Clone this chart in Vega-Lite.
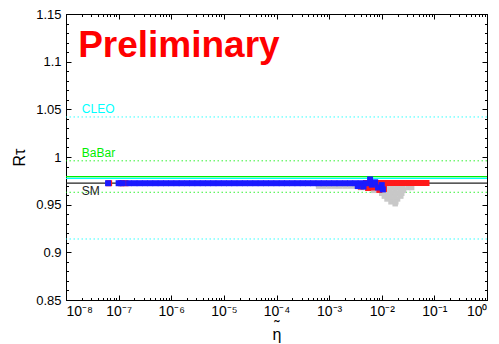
{
  "$schema": "https://vega.github.io/schema/vega-lite/v6.json",
  "width": 421,
  "height": 286,
  "autosize": {"type": "none"},
  "padding": {"left": 66, "top": 14, "right": 12, "bottom": 44},
  "background": "white",
  "config": {
    "view": {"stroke": "black", "strokeWidth": 1},
    "font": "Liberation Sans",
    "axis": {"domainColor": "black", "tickColor": "black", "labelColor": "black", "titleColor": "black", "grid": false, "labelFont": "Liberation Sans", "titleFont": "Liberation Sans", "titleFontWeight": "normal"}
  },
  "datasets": {
    "bounds": [
      {"exp": "CLEO", "value": 1.042},
      {"exp": "CLEO", "value": 0.914},
      {"exp": "BaBar", "value": 0.996},
      {"exp": "BaBar", "value": 0.963}
    ],
    "means": [
      {"exp": "CLEO", "value": 0.9775},
      {"exp": "BaBar", "value": 0.9795},
      {"exp": "SM", "value": 0.9725}
    ],
    "labels": [
      {"exp": "CLEO", "eta": 2.0e-8, "value": 1.0458},
      {"exp": "BaBar", "eta": 2.0e-8, "value": 0.9997},
      {"exp": "SM", "eta": 2.0e-8, "value": 0.960}
    ],
    "prelim": [
      {"text": "Preliminary", "eta": 1.7e-8, "value": 1.1045}
    ],
    "grey": [
      {"eta": 6.31e-4, "R": 0.9695}, {"eta": 7.94e-4, "R": 0.9695}, {"eta": 1.0e-3, "R": 0.9695}, {"eta": 1.26e-3, "R": 0.9695},
      {"eta": 1.58e-3, "R": 0.9695}, {"eta": 2.0e-3, "R": 0.9695}, {"eta": 2.51e-3, "R": 0.9695}, {"eta": 3.16e-3, "R": 0.9695},
      {"eta": 4.0e-3, "R": 0.968}, {"eta": 5.0e-3, "R": 0.968}, {"eta": 6.3e-3, "R": 0.968}, {"eta": 7.9e-3, "R": 0.968},
      {"eta": 1.0e-2, "R": 0.968}, {"eta": 1.26e-2, "R": 0.968}, {"eta": 1.58e-2, "R": 0.968}, {"eta": 2.0e-2, "R": 0.968},
      {"eta": 2.5e-2, "R": 0.968}, {"eta": 3.16e-2, "R": 0.968}, {"eta": 3.7e-2, "R": 0.968},
      {"eta": 7.0e-3, "R": 0.965}, {"eta": 8.9e-3, "R": 0.965}, {"eta": 1.12e-2, "R": 0.965}, {"eta": 1.41e-2, "R": 0.965},
      {"eta": 1.78e-2, "R": 0.965}, {"eta": 2.24e-2, "R": 0.965}, {"eta": 2.6e-2, "R": 0.965},
      {"eta": 1.0e-2, "R": 0.962}, {"eta": 1.26e-2, "R": 0.962}, {"eta": 1.58e-2, "R": 0.962}, {"eta": 2.0e-2, "R": 0.962}, {"eta": 2.4e-2, "R": 0.962},
      {"eta": 1.12e-2, "R": 0.959}, {"eta": 1.41e-2, "R": 0.959}, {"eta": 1.78e-2, "R": 0.959}, {"eta": 2.3e-2, "R": 0.959},
      {"eta": 1.26e-2, "R": 0.956}, {"eta": 1.58e-2, "R": 0.956}, {"eta": 2.0e-2, "R": 0.956},
      {"eta": 1.5e-2, "R": 0.953}, {"eta": 1.85e-2, "R": 0.953},
      {"eta": 1.8e-2, "R": 0.951}
    ],
    "scan": [
      {"set": "red", "eta": 6.6e-8, "R": 0.9725}, {"set": "red", "eta": 1.1e-7, "R": 0.9725}, {"set": "red", "eta": 1.35e-7, "R": 0.9725},
      {"set": "red", "eta": 4.0e-3, "R": 0.969}, {"set": "red", "eta": 5.5e-3, "R": 0.9675}, {"set": "red", "eta": 7.0e-3, "R": 0.968},
      {"set": "red", "eta": 9.0e-3, "R": 0.9655}, {"set": "red", "eta": 1.1e-2, "R": 0.9665},
      {"set": "red", "eta": 5.01e-3, "R": 0.9727}, {"set": "red", "eta": 6.31e-3, "R": 0.9727}, {"set": "red", "eta": 7.94e-3, "R": 0.9727},
      {"set": "red", "eta": 1.0e-2, "R": 0.9727}, {"set": "red", "eta": 1.26e-2, "R": 0.9727}, {"set": "red", "eta": 1.58e-2, "R": 0.9727},
      {"set": "red", "eta": 2.0e-2, "R": 0.9727}, {"set": "red", "eta": 2.51e-2, "R": 0.9727}, {"set": "red", "eta": 3.16e-2, "R": 0.9727},
      {"set": "red", "eta": 3.98e-2, "R": 0.9727}, {"set": "red", "eta": 5.01e-2, "R": 0.9727}, {"set": "red", "eta": 6.31e-2, "R": 0.9727},
      {"set": "red", "eta": 7.08e-2, "R": 0.9727},
      {"set": "blue", "eta": 6.3e-8, "R": 0.9725}, {"set": "blue", "eta": 1.0e-7, "R": 0.9725}, {"set": "blue", "eta": 1.2e-7, "R": 0.9725},
      {"set": "blue", "eta": 1.58e-7, "R": 0.9725}, {"set": "blue", "eta": 2.0e-7, "R": 0.9725}, {"set": "blue", "eta": 2.51e-7, "R": 0.9725},
      {"set": "blue", "eta": 3.16e-7, "R": 0.9725}, {"set": "blue", "eta": 3.98e-7, "R": 0.9725}, {"set": "blue", "eta": 5.01e-7, "R": 0.9725},
      {"set": "blue", "eta": 6.31e-7, "R": 0.9725}, {"set": "blue", "eta": 7.94e-7, "R": 0.9725}, {"set": "blue", "eta": 1.0e-6, "R": 0.9725},
      {"set": "blue", "eta": 1.26e-6, "R": 0.9725}, {"set": "blue", "eta": 1.58e-6, "R": 0.9725}, {"set": "blue", "eta": 2.0e-6, "R": 0.9725},
      {"set": "blue", "eta": 2.51e-6, "R": 0.9725}, {"set": "blue", "eta": 3.16e-6, "R": 0.9725}, {"set": "blue", "eta": 3.98e-6, "R": 0.9725},
      {"set": "blue", "eta": 5.01e-6, "R": 0.9725}, {"set": "blue", "eta": 6.31e-6, "R": 0.9725}, {"set": "blue", "eta": 7.94e-6, "R": 0.9725},
      {"set": "blue", "eta": 1.0e-5, "R": 0.9725}, {"set": "blue", "eta": 1.26e-5, "R": 0.9725}, {"set": "blue", "eta": 1.58e-5, "R": 0.9725},
      {"set": "blue", "eta": 2.0e-5, "R": 0.9725}, {"set": "blue", "eta": 2.51e-5, "R": 0.9725}, {"set": "blue", "eta": 3.16e-5, "R": 0.9725},
      {"set": "blue", "eta": 3.98e-5, "R": 0.9725}, {"set": "blue", "eta": 5.01e-5, "R": 0.9725}, {"set": "blue", "eta": 6.31e-5, "R": 0.9725},
      {"set": "blue", "eta": 7.94e-5, "R": 0.9725}, {"set": "blue", "eta": 1.0e-4, "R": 0.9725}, {"set": "blue", "eta": 1.26e-4, "R": 0.9725},
      {"set": "blue", "eta": 1.58e-4, "R": 0.9725}, {"set": "blue", "eta": 2.0e-4, "R": 0.9725}, {"set": "blue", "eta": 2.51e-4, "R": 0.9725},
      {"set": "blue", "eta": 3.16e-4, "R": 0.9725}, {"set": "blue", "eta": 3.98e-4, "R": 0.9725}, {"set": "blue", "eta": 5.01e-4, "R": 0.9725},
      {"set": "blue", "eta": 6.31e-4, "R": 0.9725}, {"set": "blue", "eta": 7.94e-4, "R": 0.9725}, {"set": "blue", "eta": 1.0e-3, "R": 0.9725},
      {"set": "blue", "eta": 1.26e-3, "R": 0.9725}, {"set": "blue", "eta": 1.58e-3, "R": 0.9725}, {"set": "blue", "eta": 2.0e-3, "R": 0.9725},
      {"set": "blue", "eta": 2.51e-3, "R": 0.9725}, {"set": "blue", "eta": 3.16e-3, "R": 0.9725}, {"set": "blue", "eta": 3.98e-3, "R": 0.9725},
      {"set": "blue", "eta": 5.01e-3, "R": 0.9725},
      {"set": "blue", "eta": 3.5e-3, "R": 0.9695}, {"set": "blue", "eta": 4.5e-3, "R": 0.969}, {"set": "blue", "eta": 6.0e-3, "R": 0.9765},
      {"set": "blue", "eta": 6.5e-3, "R": 0.971}, {"set": "blue", "eta": 7.5e-3, "R": 0.9735}, {"set": "blue", "eta": 8.5e-3, "R": 0.968},
      {"set": "blue", "eta": 1.0e-2, "R": 0.9705}, {"set": "blue", "eta": 1.05e-2, "R": 0.966}
    ]
  },
  "resolve": {"axis": {"x": "independent", "y": "independent"}},
  "layer": [
    {
      "data": {"name": "bounds"},
      "mark": {"type": "rule", "strokeWidth": 1, "strokeDash": [1.5, 2.5], "opacity": 0.8},
      "encoding": {
        "y": {"field": "value", "type": "quantitative", "scale": {"domain": [0.85, 1.15], "nice": false, "zero": false},
          "axis": {"orient": "left", "title": "Rτ", "titleFontSize": 16, "titleAngle": -90, "titleX": -42, "titleBaseline": "alphabetic",
            "values": [0.85, 0.9, 0.95, 1, 1.05, 1.1, 1.15], "format": "~g", "labelFontSize": 13, "tickSize": -5, "labelPadding": 10, "domain": true}},
        "color": {"field": "exp", "type": "nominal", "scale": {"domain": ["CLEO", "BaBar", "SM", "red", "blue"], "range": ["#00ffff", "#00ee00", "#222222", "#ff1a1a", "#1a1aff"]}, "legend": null}
      }
    },
    {
      "data": {"name": "means"},
      "mark": {"type": "rule", "strokeWidth": 1.3},
      "encoding": {
        "y": {"field": "value", "type": "quantitative", "scale": {"domain": [0.85, 1.15], "nice": false, "zero": false}, "axis": null},
        "color": {"field": "exp", "type": "nominal", "scale": {"domain": ["CLEO", "BaBar", "SM", "red", "blue"], "range": ["#00ffff", "#00ee00", "#222222", "#ff1a1a", "#1a1aff"]}, "legend": null}
      }
    },
    {
      "data": {"name": "grey"},
      "mark": {"type": "point", "shape": "square", "filled": true, "size": 30, "color": "#c8c8c8", "opacity": 1},
      "encoding": {
        "x": {"field": "eta", "type": "quantitative", "scale": {"type": "log", "domain": [1e-8, 1], "nice": false},
          "axis": {"orient": "top", "labels": false, "title": null, "domain": false, "tickSize": -2.5,
            "values": [2e-8,3e-8,4e-8,5e-8,6e-8,7e-8,8e-8,9e-8,2e-7,3e-7,4e-7,5e-7,6e-7,7e-7,8e-7,9e-7,2e-6,3e-6,4e-6,5e-6,6e-6,7e-6,8e-6,9e-6,2e-5,3e-5,4e-5,5e-5,6e-5,7e-5,8e-5,9e-5,2e-4,3e-4,4e-4,5e-4,6e-4,7e-4,8e-4,9e-4,2e-3,3e-3,4e-3,5e-3,6e-3,7e-3,8e-3,9e-3,2e-2,3e-2,4e-2,5e-2,6e-2,7e-2,8e-2,9e-2,0.2,0.3,0.4,0.5,0.6,0.7,0.8,0.9]}},
        "y": {"field": "R", "type": "quantitative", "scale": {"domain": [0.85, 1.15], "nice": false, "zero": false}, "axis": null}
      }
    },
    {
      "data": {"name": "scan"},
      "mark": {"type": "point", "shape": "square", "filled": true, "size": 36, "opacity": 1},
      "encoding": {
        "x": {"field": "eta", "type": "quantitative", "scale": {"type": "log", "domain": [1e-8, 1], "nice": false},
          "axis": {"orient": "bottom", "title": ["˜", "η"], "titleFontSize": 16, "titleLineHeight": 8, "titlePadding": 0, "labelFontSize": 14, "tickSize": -5, "labelPadding": 9,
            "values": [1e-8, 1e-7, 1e-6, 1e-5, 1e-4, 1e-3, 1e-2, 1e-1, 1],
            "labelExpr": "'10' + ['⁻⁸','⁻⁷','⁻⁶','⁻⁵','⁻⁴','⁻³','⁻²','⁻¹','⁰'][round(log(datum.value)/LN10)+8]"}},
        "y": {"field": "R", "type": "quantitative", "scale": {"domain": [0.85, 1.15], "nice": false, "zero": false},
          "axis": {"orient": "right", "labels": false, "title": null, "tickSize": -5, "values": [0.85, 0.9, 0.95, 1, 1.05, 1.1, 1.15]}},
        "color": {"field": "set", "type": "nominal", "scale": {"domain": ["CLEO", "BaBar", "SM", "red", "blue"], "range": ["#00ffff", "#00ee00", "#222222", "#ff1a1a", "#1a1aff"]}, "legend": null},
        "order": {"field": "set", "sort": "descending"}
      }
    },
    {
      "data": {"name": "labels"},
      "mark": {"type": "text", "align": "left", "baseline": "alphabetic", "fontSize": 12, "font": "Liberation Sans"},
      "encoding": {
        "x": {"field": "eta", "type": "quantitative", "scale": {"type": "log", "domain": [1e-8, 1], "nice": false},
          "axis": {"orient": "top", "labels": false, "title": null, "tickSize": -5, "values": [1e-8, 1e-7, 1e-6, 1e-5, 1e-4, 1e-3, 1e-2, 1e-1, 1]}},
        "y": {"field": "value", "type": "quantitative", "scale": {"domain": [0.85, 1.15], "nice": false, "zero": false},
          "axis": {"orient": "left", "labels": false, "title": null, "domain": false, "tickSize": -2.5,
            "values": [0.86,0.87,0.88,0.89,0.91,0.92,0.93,0.94,0.96,0.97,0.98,0.99,1.01,1.02,1.03,1.04,1.06,1.07,1.08,1.09,1.11,1.12,1.13,1.14]}},
        "text": {"field": "exp"},
        "color": {"field": "exp", "type": "nominal", "scale": {"domain": ["CLEO", "BaBar", "SM", "red", "blue"], "range": ["#00ffff", "#00ee00", "#222222", "#ff1a1a", "#1a1aff"]}, "legend": null}
      }
    },
    {
      "data": {"name": "prelim"},
      "mark": {"type": "text", "align": "left", "baseline": "alphabetic", "fontSize": 37, "fontWeight": "bold", "font": "Liberation Sans", "color": "#ff0000"},
      "encoding": {
        "x": {"field": "eta", "type": "quantitative", "scale": {"type": "log", "domain": [1e-8, 1], "nice": false},
          "axis": {"orient": "bottom", "labels": false, "title": null, "domain": false, "tickSize": -2.5,
            "values": [2e-8,3e-8,4e-8,5e-8,6e-8,7e-8,8e-8,9e-8,2e-7,3e-7,4e-7,5e-7,6e-7,7e-7,8e-7,9e-7,2e-6,3e-6,4e-6,5e-6,6e-6,7e-6,8e-6,9e-6,2e-5,3e-5,4e-5,5e-5,6e-5,7e-5,8e-5,9e-5,2e-4,3e-4,4e-4,5e-4,6e-4,7e-4,8e-4,9e-4,2e-3,3e-3,4e-3,5e-3,6e-3,7e-3,8e-3,9e-3,2e-2,3e-2,4e-2,5e-2,6e-2,7e-2,8e-2,9e-2,0.2,0.3,0.4,0.5,0.6,0.7,0.8,0.9]}},
        "y": {"field": "value", "type": "quantitative", "scale": {"domain": [0.85, 1.15], "nice": false, "zero": false},
          "axis": {"orient": "right", "labels": false, "title": null, "domain": false, "tickSize": -2.5,
            "values": [0.86,0.87,0.88,0.89,0.91,0.92,0.93,0.94,0.96,0.97,0.98,0.99,1.01,1.02,1.03,1.04,1.06,1.07,1.08,1.09,1.11,1.12,1.13,1.14]}},
        "text": {"field": "text"}
      }
    }
  ]
}
